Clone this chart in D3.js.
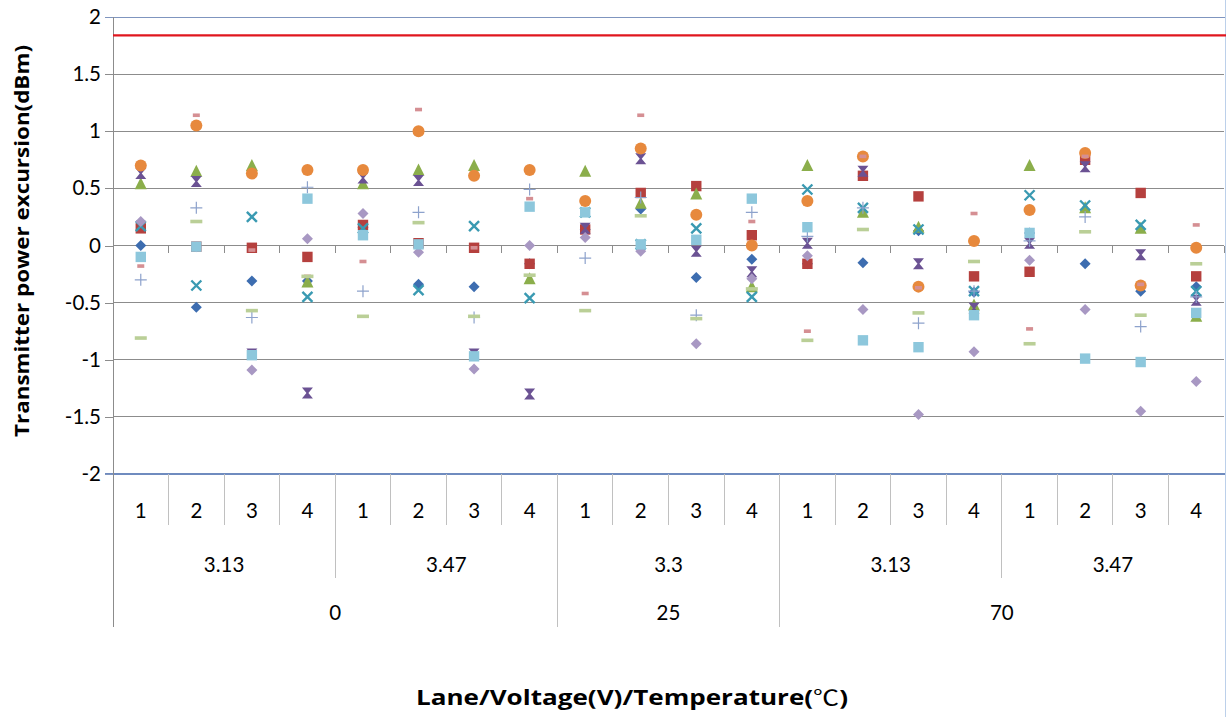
<!DOCTYPE html>
<html>
<head>
<meta charset="utf-8">
<script src="https://cdn.jsdelivr.net/npm/d3@7"></script>
<style>
  html, body { margin: 0; padding: 0; background: #fff; }
  svg { display: block; }
  text { font-family: "Lato", "Open Sans", "Noto Sans", sans-serif; fill: #000; }
  .title { font-family: "Open Sans", "Noto Sans", sans-serif; font-weight: bold; }
  .cjk { font-family: "Noto Sans CJK SC", "Noto Sans", sans-serif; font-weight: normal; }
</style>
</head>
<body>
<svg id="chart" width="1226" height="717"></svg>
<script>
// Category hierarchy: lane within voltage within temperature
const lanes = ["1","2","3","4","1","2","3","4","1","2","3","4","1","2","3","4","1","2","3","4"];
const voltageGroups = [
  { label: "3.13", start: 0, end: 4 },
  { label: "3.47", start: 4, end: 8 },
  { label: "3.3",  start: 8, end: 12 },
  { label: "3.13", start: 12, end: 16 },
  { label: "3.47", start: 16, end: 20 }
];
const temperatureGroups = [
  { label: "0",  start: 0, end: 8 },
  { label: "25", start: 8, end: 12 },
  { label: "70", start: 12, end: 20 }
];
const yTicks = [-2, -1.5, -1, -0.5, 0, 0.5, 1, 1.5, 2];
const limitValue = 1.84;

// Measured excursion per series (dBm), one value per lane/voltage/temperature combination
const seriesBlueDiamond   = [0.00, -0.54, -0.31, -0.31, 0.16, -0.34, -0.36, -0.16, 0.14, 0.32, -0.28, -0.12, -0.16, -0.15, 0.13, -0.41, 0.11, -0.16, -0.40, -0.36];
const seriesRedSquare     = [0.15, -0.01, -0.02, -0.10, 0.18, 0.02, -0.02, -0.16, 0.14, 0.46, 0.52, 0.09, -0.16, 0.61, 0.43, -0.27, -0.23, 0.75, 0.46, -0.27];
const seriesGreenTriangle = [0.54, 0.65, 0.70, -0.32, 0.54, 0.66, 0.70, -0.29, 0.65, 0.37, 0.45, -0.36, 0.70, 0.29, 0.16, -0.52, 0.70, 0.33, 0.15, -0.62];
const seriesPurpleGlass   = [0.63, 0.56, -0.95, -1.29, 0.59, 0.57, -0.95, -1.30, 0.15, 0.76, -0.05, -0.23, 0.02, 0.65, -0.16, -0.55, 0.02, 0.69, -0.08, -0.48];
const seriesTealCross     = [0.17, -0.35, 0.25, -0.45, 0.15, -0.39, 0.17, -0.46, 0.29, 0.01, 0.15, -0.45, 0.49, 0.33, 0.14, -0.40, 0.44, 0.35, 0.18, -0.40];
const seriesOrangeCircle  = [0.70, 1.05, 0.63, 0.66, 0.66, 1.00, 0.61, 0.66, 0.39, 0.85, 0.27, 0.00, 0.39, 0.78, -0.36, 0.04, 0.31, 0.81, -0.35, -0.02];
const seriesPlus          = [-0.30, 0.33, -0.63, 0.51, -0.40, 0.29, -0.63, 0.49, -0.11, 0.42, -0.61, 0.29, 0.08, 0.33, -0.68, -0.40, 0.04, 0.25, -0.71, -0.45];
const seriesPinkDot       = [-0.18, 1.14, -0.04, -0.27, -0.14, 1.19, -0.02, 0.41, -0.42, 1.14, 0.05, 0.21, -0.75, 0.78, -0.37, 0.28, -0.73, 0.78, -0.34, 0.18];
const seriesGreenDash     = [-0.81, 0.21, -0.57, -0.27, -0.62, 0.20, -0.62, -0.26, -0.57, 0.26, -0.64, -0.38, -0.83, 0.14, -0.59, -0.14, -0.86, 0.12, -0.61, -0.16];
const seriesLilacDiamond  = [0.21, -0.01, -1.09, 0.06, 0.28, -0.06, -1.08, 0.00, 0.07, -0.05, -0.86, -0.29, -0.09, -0.56, -1.48, -0.93, -0.13, -0.56, -1.45, -1.19];
const seriesSkySquare     = [-0.10, -0.01, -0.96, 0.41, 0.09, 0.01, -0.97, 0.34, 0.29, 0.01, 0.05, 0.41, 0.16, -0.83, -0.89, -0.61, 0.11, -0.99, -1.02, -0.59];

const series = [
  { values: seriesBlueDiamond,   shape: "diamond",   color: "#3D6DB0" },
  { values: seriesRedSquare,     shape: "square",    color: "#B5403E" },
  { values: seriesGreenTriangle, shape: "triangle",  color: "#8BAE4B" },
  { values: seriesPurpleGlass,   shape: "hourglass", color: "#6B5293" },
  { values: seriesTealCross,     shape: "cross",     color: "#3A9AB2" },
  { values: seriesOrangeCircle,  shape: "circle",    color: "#E7893D" },
  { values: seriesPlus,          shape: "plus",      color: "#8DA2CC" },
  { values: seriesPinkDot,       shape: "dot",       color: "#D58F93" },
  { values: seriesGreenDash,     shape: "dash",      color: "#BACF97" },
  { values: seriesLilacDiamond,  shape: "diamond",   color: "#A898C3" },
  { values: seriesSkySquare,     shape: "square",    color: "#8DC7DC" }
];

const svg = d3.select("#chart");
const plotLeft = 113, plotRight = 1224, plotTop = 17, plotBottom = 474;

const x = d3.scaleBand().domain(d3.range(lanes.length)).range([plotLeft, plotRight]).paddingInner(0).paddingOuter(0);
const y = d3.scaleLinear().domain([-2, 2]).range([plotBottom, plotTop]);

// Horizontal gridlines
svg.append("g").selectAll("line").data(yTicks.filter(t => t > -2 && t < 2)).join("line")
  .attr("x1", plotLeft).attr("x2", plotRight)
  .attr("y1", d => y(d)).attr("y2", d => y(d))
  .attr("stroke", "#8C8C8C").attr("stroke-width", 1).attr("shape-rendering", "crispEdges");

// Plot area border lines (top, bottom, right)
svg.append("line").attr("x1", plotLeft - 8).attr("x2", plotRight + 2).attr("y1", y(2)).attr("y2", y(2))
  .attr("stroke", "#7F95BF").attr("stroke-width", 1).attr("shape-rendering", "crispEdges");
svg.append("line").attr("x1", plotLeft - 8).attr("x2", plotRight + 2).attr("y1", y(-2)).attr("y2", y(-2))
  .attr("stroke", "#6F8BBF").attr("stroke-width", 1.6).attr("shape-rendering", "crispEdges");
svg.append("line").attr("x1", 1225).attr("x2", 1225).attr("y1", 0).attr("y2", 717)
  .attr("stroke", "#BCD0EA").attr("stroke-width", 1).attr("shape-rendering", "crispEdges");

// Value axis
const yAxis = d3.axisLeft(y).tickValues(yTicks).tickSize(8).tickPadding(4)
  .tickFormat(d => String(d));
const yg = svg.append("g").attr("transform", `translate(${plotLeft},0)`).call(yAxis);
yg.select(".domain").remove();
yg.selectAll(".tick line").attr("stroke", "#8C8C8C").attr("shape-rendering", "crispEdges");
yg.selectAll(".tick text").style("font-size", "20.5px").attr("fill", "#000");
yg.selectAll(".tick").filter(d => d === 2 || d === -2).select("line").attr("stroke", "#7F95BF");

// Left axis line runs down through the category label table
svg.append("line").attr("x1", plotLeft).attr("x2", plotLeft).attr("y1", plotTop).attr("y2", 627)
  .attr("stroke", "#8C8C8C").attr("stroke-width", 1).attr("shape-rendering", "crispEdges");

// Category tick marks on the zero line
const boundaries = d3.range(1, lanes.length + 1).map(i => i === lanes.length ? plotRight : x(i));
svg.append("g").selectAll("line").data(boundaries).join("line")
  .attr("x1", d => d).attr("x2", d => d).attr("y1", y(0)).attr("y2", y(0) + 7)
  .attr("stroke", "#8C8C8C").attr("shape-rendering", "crispEdges");

// Limit line
svg.append("line")
  .attr("x1", plotLeft).attr("x2", plotRight + 2).attr("y1", y(limitValue)).attr("y2", y(limitValue))
  .attr("stroke", "#E0161E").attr("stroke-width", 2.2);

// Category label table
const sepColor = "#C0C0C0";
const sep = svg.append("g").attr("stroke", sepColor).attr("shape-rendering", "crispEdges");
const voltBounds = new Set(voltageGroups.map(g => g.end));
const tempBounds = new Set(temperatureGroups.map(g => g.end));
d3.range(1, lanes.length).forEach(i => {
  let yEnd = 525;
  if (tempBounds.has(i)) yEnd = 627;
  else if (voltBounds.has(i)) yEnd = 578;
  sep.append("line").attr("x1", x(i)).attr("x2", x(i)).attr("y1", plotBottom).attr("y2", yEnd);
});

svg.append("g").selectAll("text").data(lanes).join("text")
  .attr("x", (d, i) => x(i) + x.bandwidth() / 2).attr("y", 518)
  .attr("text-anchor", "middle").style("font-size", "20.5px").text(d => d);

const groupCenter = g => (x(g.start) + (g.end >= lanes.length ? plotRight : x(g.end))) / 2;
svg.append("g").selectAll("text").data(voltageGroups).join("text")
  .attr("x", groupCenter).attr("y", 572)
  .attr("text-anchor", "middle").style("font-size", "20.5px").text(d => d.label);
svg.append("g").selectAll("text").data(temperatureGroups).join("text")
  .attr("x", groupCenter).attr("y", 620)
  .attr("text-anchor", "middle").style("font-size", "20.5px").text(d => d.label);

// Axis titles
svg.append("text").attr("class", "title")
  .attr("transform", `translate(29,241) rotate(-90)`)
  .attr("text-anchor", "middle").style("font-size", "19px")
  .attr("textLength", 392).attr("lengthAdjust", "spacingAndGlyphs")
  .text("Transmitter power excursion(dBm)");
const xTitle = svg.append("text").attr("class", "title")
  .attr("x", 632).attr("y", 705).attr("text-anchor", "middle")
  .style("font-size", "21px")
  .attr("textLength", 432).attr("lengthAdjust", "spacingAndGlyphs");
xTitle.append("tspan").text("Lane/Voltage(V)/Temperature(");
xTitle.append("tspan").attr("class", "cjk").text("℃");
xTitle.append("tspan").text(")");

// Marker shapes
const s = 5.5;
function markerPath(shape) {
  switch (shape) {
    case "diamond":   return `M0,${-s}L${s},0L0,${s}L${-s},0Z`;
    case "square":    return `M${-s + 0.3},${-s + 0.3}H${s - 0.3}V${s - 0.3}H${-s + 0.3}Z`;
    case "triangle":  return `M0,${-s - 1}L${s + 0.5},${s}H${-s - 0.5}Z`;
    case "hourglass": return `M${-s},${-s}H${s}L1,0L${s},${s}H${-s}L-1,0Z`;
    default: return null;
  }
}

const markers = svg.append("g");
series.forEach(sr => {
  const g = markers.append("g");
  const pts = sr.values.map((v, i) => ({ cx: x(i) + x.bandwidth() / 2, cy: y(v) }));
  if (sr.shape === "circle") {
    g.selectAll("circle").data(pts).join("circle")
      .attr("cx", d => d.cx).attr("cy", d => d.cy).attr("r", 6).attr("fill", sr.color);
  } else if (sr.shape === "cross") {
    g.selectAll("path").data(pts).join("path")
      .attr("d", d => `M${d.cx - 5},${d.cy - 5}L${d.cx + 5},${d.cy + 5}M${d.cx + 5},${d.cy - 5}L${d.cx - 5},${d.cy + 5}`)
      .attr("stroke", sr.color).attr("stroke-width", 2.4).attr("fill", "none");
  } else if (sr.shape === "plus") {
    g.selectAll("path").data(pts).join("path")
      .attr("d", d => `M${d.cx - 6},${d.cy}H${d.cx + 6}M${d.cx},${d.cy - 6}V${d.cy + 6}`)
      .attr("stroke", sr.color).attr("stroke-width", 1.2).attr("fill", "none");
  } else if (sr.shape === "dot") {
    g.selectAll("rect").data(pts).join("rect")
      .attr("x", d => d.cx - 3.5).attr("y", d => d.cy - 1.8).attr("width", 7).attr("height", 3.6)
      .attr("fill", sr.color);
  } else if (sr.shape === "dash") {
    g.selectAll("rect").data(pts).join("rect")
      .attr("x", d => d.cx - 6).attr("y", d => d.cy - 1.8).attr("width", 12).attr("height", 3.6)
      .attr("fill", sr.color);
  } else {
    g.selectAll("path").data(pts).join("path")
      .attr("transform", d => `translate(${d.cx},${d.cy})`)
      .attr("d", markerPath(sr.shape)).attr("fill", sr.color);
  }
});
</script>
</body>
</html>
